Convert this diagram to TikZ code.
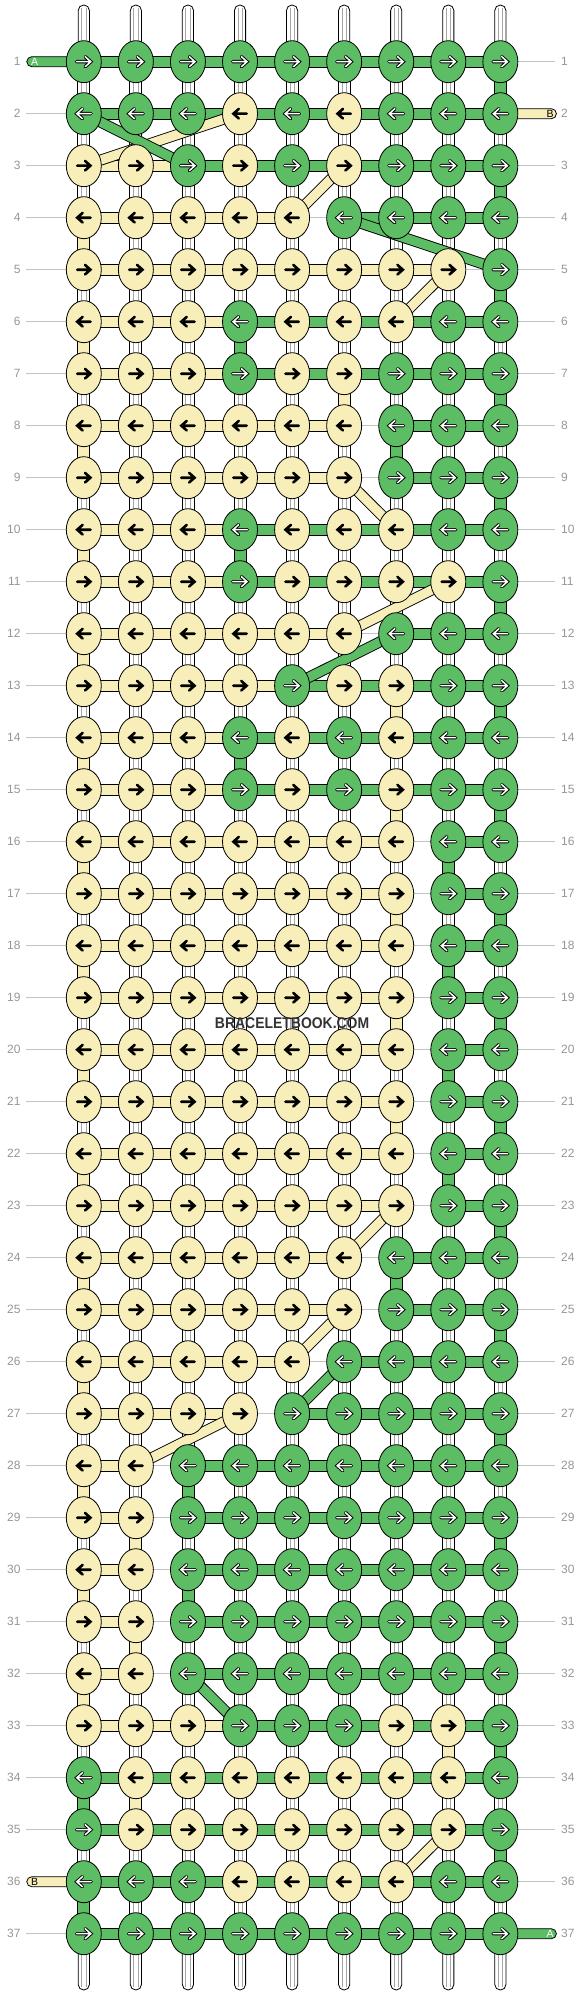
\documentclass[tikz,border=0pt]{standalone}
\usepackage{fontspec}
\setmainfont{Liberation Sans}
\usetikzlibrary{shapes.geometric,backgrounds}

\definecolor{colG}{RGB}{92,189,101}
\definecolor{colY}{RGB}{248,238,186}
\definecolor{numgray}{RGB}{150,150,150}
\definecolor{linegray}{RGB}{195,195,195}
\definecolor{tubegray}{RGB}{165,165,165}
\definecolor{markgray}{RGB}{51,51,51}

\tikzset{
  knot/.style={ellipse, draw=black, line width=0.8pt, fill=col#1,
    minimum width=35pt, minimum height=42pt, inner sep=0pt},
  arrowstroke/.style={line width=#1, line cap=round, line join=miter},
  knotbar/.style={draw=black, line width=0.8pt, fill=col#1},
  whitetube/.style={draw=black, line width=0.8pt, fill=white},
  tubeline/.style={tubegray, line width=0.5pt},
  stringband/.style={line width=#1},
  rowline/.style={linegray, line width=0.8pt},
  rownum/.style={numgray, inner sep=0pt, font=\fontsize{12}{12}\selectfont},
  endlabel/.style={inner sep=0pt, font=\fontsize{10.5}{10.5}\selectfont}
}

\begin{document}
\begin{tikzpicture}[x=1pt,y=1pt]
\useasboundingbox (0,0) rectangle (584,-1996);

% knots, row by row
\foreach \r/\ks in {1/{G,G,G,G,G,G,G,G,G},2/{G,G,G,Y,G,Y,G,G,G},3/{Y,Y,G,Y,G,Y,G,G,G},
  4/{Y,Y,Y,Y,Y,G,G,G,G},5/{Y,Y,Y,Y,Y,Y,Y,Y,G},6/{Y,Y,Y,G,Y,Y,Y,G,G},
  7/{Y,Y,Y,G,Y,Y,G,G,G},8/{Y,Y,Y,Y,Y,Y,G,G,G},9/{Y,Y,Y,Y,Y,Y,G,G,G},
  10/{Y,Y,Y,G,Y,Y,Y,G,G},11/{Y,Y,Y,G,Y,Y,Y,Y,G},12/{Y,Y,Y,Y,Y,Y,G,G,G},
  13/{Y,Y,Y,Y,G,Y,Y,G,G},14/{Y,Y,Y,G,Y,G,Y,G,G},15/{Y,Y,Y,G,Y,G,Y,G,G},
  16/{Y,Y,Y,Y,Y,Y,Y,G,G},17/{Y,Y,Y,Y,Y,Y,Y,G,G},18/{Y,Y,Y,Y,Y,Y,Y,G,G},
  19/{Y,Y,Y,Y,Y,Y,Y,G,G},20/{Y,Y,Y,Y,Y,Y,Y,G,G},21/{Y,Y,Y,Y,Y,Y,Y,G,G},
  22/{Y,Y,Y,Y,Y,Y,Y,G,G},23/{Y,Y,Y,Y,Y,Y,Y,G,G},24/{Y,Y,Y,Y,Y,Y,G,G,G},
  25/{Y,Y,Y,Y,Y,Y,G,G,G},26/{Y,Y,Y,Y,Y,G,G,G,G},27/{Y,Y,Y,Y,G,G,G,G,G},
  28/{Y,Y,G,G,G,G,G,G,G},29/{Y,Y,G,G,G,G,G,G,G},30/{Y,Y,G,G,G,G,G,G,G},
  31/{Y,Y,G,G,G,G,G,G,G},32/{Y,Y,G,G,G,G,G,G,G},33/{Y,Y,Y,G,G,G,Y,Y,G},
  34/{G,Y,Y,Y,Y,Y,Y,Y,G},35/{G,Y,Y,Y,Y,Y,Y,Y,G},36/{G,G,G,Y,Y,Y,Y,G,G},
  37/{G,G,G,G,G,G,G,G,G}}{
  \pgfmathsetmacro\yy{-61.7-52*(\r-1)}
  \pgfmathsetmacro\dir{1-2*mod(\r+1,2)}
  \node[rownum, anchor=east] (nl-\r) at (20.7,\yy) {\r};
  \node[rownum, anchor=west] (nr-\r) at (561,\yy) {\r};
  \foreach \k [count=\c] in \ks {
    \pgfmathsetmacro\xx{83.8+52.07*(\c-1)}
    \node[knot=\k] (k-\r-\c) at (\xx,\yy) {};
    \begin{scope}[shift={(k-\r-\c.center)}, xscale=\dir]
      \if\k G
        \draw[arrowstroke=3.4pt, black] (-7.3,0) -- (6.2,0) (1.4,5) -- (7,0) -- (1.4,-5);
        \draw[arrowstroke=1.5pt, white] (-7.3,0) -- (6.2,0) (1.4,5) -- (7,0) -- (1.4,-5);
      \else
        \draw[arrowstroke=2.6pt, black] (-6.7,0) -- (5.9,0) (1.2,4.8) -- (6.6,0) -- (1.2,-4.8);
      \fi
    \end{scope}
  }
}

% ends of the strings
\foreach \c in {1,...,9}{
  \pgfmathsetmacro\xx{83.8+52.07*(\c-1)}
  \coordinate (top-\c) at (\xx,-5);
  \coordinate (bot-\c) at (\xx,-1990);
}
\coordinate (endA1) at (26.8,-61.7);
\coordinate (endB2) at (556.4,-113.7);
\coordinate (endB36) at (26.8,-1881.7);
\coordinate (endA37) at (556.4,-1933.7);
\node[endlabel, white] (labA1) at (34.6,-61.7) {A};
\node[endlabel, black] (labB2) at (550,-113.7) {B};
\node[endlabel, black] (labB36) at (34.6,-1881.7) {B};
\node[endlabel, white] (labA37) at (550,-1933.7) {A};

\node[markgray, font=\bfseries\fontsize{15.5}{15.5}\selectfont] (mark) at (292.1,-1023.5)
  {\scalebox{0.9}[1]{BRACELETBOOK.COM}};

\begin{pgfonlayer}{background}
% row lines
\foreach \r in {1,...,37}
  \draw[rowline] ([xshift=5.5pt]nl-\r.east) -- ([xshift=-6pt]nr-\r.west);

% top and bottom strings
\foreach \c in {1,...,9}{
  \draw[whitetube, rounded corners=5.5pt] ([xshift=-5.6pt]top-\c) rectangle ([xshift=5.6pt]k-1-\c.center);
  \draw[whitetube, rounded corners=5.5pt] ([xshift=-5.6pt]k-37-\c.center) rectangle ([xshift=5.6pt]bot-\c);
  \draw[tubeline] ([xshift=-2.2pt,yshift=-3pt]top-\c) -- ([xshift=-2.2pt]k-1-\c.center)
    ([xshift=2.2pt,yshift=-3pt]top-\c) -- ([xshift=2.2pt]k-1-\c.center);
  \draw[tubeline] ([xshift=-2.2pt,yshift=3pt]bot-\c) -- ([xshift=-2.2pt]k-37-\c.center)
    ([xshift=2.2pt,yshift=3pt]bot-\c) -- ([xshift=2.2pt]k-37-\c.center);
}

% links between rows
\foreach \r/\ts in {1/{W,W,W,W,W,W,W,W,G},2/{W,W,W,W,W,W,W,W,W},3/{W,W,W,W,W,W,W,W,G},
  4/{Y,W,W,W,W,W,W,W,W},5/{W,W,W,W,W,W,W,W,G},6/{Y,W,W,G,W,W,W,W,W},
  7/{W,W,W,W,W,Y,W,W,G},8/{Y,W,W,W,W,W,G,W,W},9/{W,W,W,W,W,W,W,W,G},
  10/{Y,W,W,G,W,W,W,W,W},11/{W,W,W,W,W,W,W,W,G},12/{Y,W,W,W,W,W,W,W,W},
  13/{W,W,W,W,W,W,Y,W,G},14/{Y,W,W,G,W,W,W,W,W},15/{W,W,W,W,W,W,Y,W,G},
  16/{Y,W,W,W,W,W,W,G,W},17/{W,W,W,W,W,W,Y,W,G},18/{Y,W,W,W,W,W,W,G,W},
  19/{W,W,W,W,W,W,Y,W,G},20/{Y,W,W,W,W,W,W,G,W},21/{W,W,W,W,W,W,Y,W,G},
  22/{Y,W,W,W,W,W,W,G,W},23/{W,W,W,W,W,W,W,W,G},24/{Y,W,W,W,W,W,G,W,W},
  25/{W,W,W,W,W,W,W,W,G},26/{Y,W,W,W,W,W,W,W,W},27/{W,W,W,W,W,W,W,W,G},
  28/{Y,W,G,W,W,W,W,W,W},29/{W,Y,W,W,W,W,W,W,G},30/{Y,W,G,W,W,W,W,W,W},
  31/{W,Y,W,W,W,W,W,W,G},32/{Y,W,W,W,W,W,W,W,W},33/{W,W,W,W,W,W,W,Y,G},
  34/{G,Y,W,W,W,W,W,W,W},35/{W,W,W,W,W,W,W,W,G},36/{G,W,W,W,W,W,W,W,W}}{
  \pgfmathtruncatemacro\s{\r+1}
  \foreach \t [count=\c] in \ts {
    \if\t W
      \draw[whitetube] ([xshift=-6pt]k-\r-\c.center) rectangle ([xshift=6pt]k-\s-\c.center);
      \draw[tubeline] ([xshift=-2.2pt]k-\r-\c.center) -- ([xshift=-2.2pt]k-\s-\c.center)
        ([xshift=2.2pt]k-\r-\c.center) -- ([xshift=2.2pt]k-\s-\c.center);
    \else
      \draw[knotbar=\t] ([xshift=-6pt]k-\r-\c.center) rectangle ([xshift=6pt]k-\s-\c.center);
    \fi
  }
}

% links along rows
\foreach \r/\bs in {1/{G,G,G,G,G,G,G,G},2/{G,G,G,G,G,G,G,G},3/{Y,Y,G,G,G,G,G,G},
  4/{Y,Y,Y,Y,N,G,G,G},5/{Y,Y,Y,Y,Y,Y,Y,N},6/{Y,Y,Y,G,G,G,G,G},
  7/{Y,Y,Y,G,G,G,G,G},8/{Y,Y,Y,Y,Y,N,G,G},9/{Y,Y,Y,Y,Y,N,G,G},
  10/{Y,Y,Y,G,G,G,G,G},11/{Y,Y,Y,G,G,G,G,G},12/{Y,Y,Y,Y,Y,N,G,G},
  13/{Y,Y,Y,Y,G,G,G,G},14/{Y,Y,Y,G,G,G,G,G},15/{Y,Y,Y,G,G,G,G,G},
  16/{Y,Y,Y,Y,Y,Y,N,G},17/{Y,Y,Y,Y,Y,Y,N,G},18/{Y,Y,Y,Y,Y,Y,N,G},
  19/{Y,Y,Y,Y,Y,Y,N,G},20/{Y,Y,Y,Y,Y,Y,N,G},21/{Y,Y,Y,Y,Y,Y,N,G},
  22/{Y,Y,Y,Y,Y,Y,N,G},23/{Y,Y,Y,Y,Y,Y,N,G},24/{Y,Y,Y,Y,Y,N,G,G},
  25/{Y,Y,Y,Y,Y,N,G,G},26/{Y,Y,Y,Y,N,G,G,G},27/{Y,Y,Y,N,G,G,G,G},
  28/{Y,N,G,G,G,G,G,G},29/{Y,N,G,G,G,G,G,G},30/{Y,N,G,G,G,G,G,G},
  31/{Y,N,G,G,G,G,G,G},32/{Y,N,G,G,G,G,G,G},33/{Y,Y,Y,G,G,G,G,G},
  34/{G,G,G,G,G,G,G,G},35/{G,G,G,G,G,G,G,G},36/{G,G,G,G,G,G,G,G},
  37/{G,G,G,G,G,G,G,G}}{
  \foreach \b [count=\c] in \bs {
    \pgfmathtruncatemacro\d{\c+1}
    \if\b N\else
      \draw[knotbar=\b] ([yshift=5.5pt]k-\r-\c.center) rectangle ([yshift=-5.5pt]k-\r-\d.center);
    \fi
  }
}

% working strings coming in and going out
\draw[knotbar=G, rounded corners=5pt] ([yshift=5pt]endA1) rectangle ([yshift=-5pt]k-1-1.center);
\draw[knotbar=Y, rounded corners=5pt] ([yshift=5pt]k-2-9.center) rectangle ([yshift=-5pt]endB2);
\draw[knotbar=Y, rounded corners=5pt] ([yshift=5pt]endB36) rectangle ([yshift=-5pt]k-36-1.center);
\draw[knotbar=G, rounded corners=5pt] ([yshift=5pt]k-37-9.center) rectangle ([yshift=-5pt]endA37);

% strings crossing to another column
\foreach \ra/\ca/\cb/\col in {2/4/1/Y,2/1/3/G,3/6/5/Y,4/6/9/G,5/8/7/Y,9/6/7/Y,11/8/6/Y,
  12/7/5/G,23/7/6/Y,25/6/5/Y,26/6/5/G,27/4/2/Y,32/3/4/G,35/8/7/Y}{
  \pgfmathtruncatemacro\rb{\ra+1}
  \draw[stringband=11pt, black] (k-\ra-\ca.center) -- (k-\rb-\cb.center);
  \draw[stringband=9.2pt, col\col] (k-\ra-\ca.center) -- (k-\rb-\cb.center);
}
\end{pgfonlayer}
\end{tikzpicture}
\end{document}
